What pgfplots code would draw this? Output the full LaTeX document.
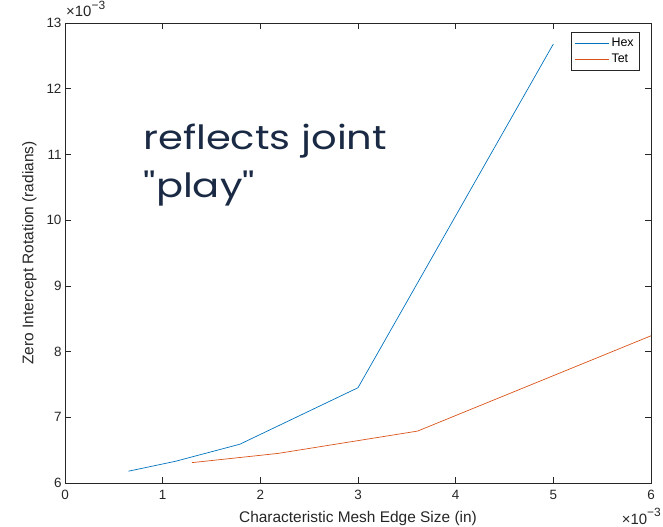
\documentclass[border=0pt]{standalone}
\usepackage{fontspec}
\setmainfont{Liberation Sans}
\newfontfamily\bigfont{Poppins}
\usepackage{pgfplots}
\pgfplotsset{compat=1.18}
\definecolor{mblue}{RGB}{0,114,189}
\definecolor{morange}{RGB}{217,83,25}
\definecolor{axgray}{RGB}{38,38,38}
\definecolor{navy}{RGB}{27,42,68}
\pgfplotsset{mylegline/.style={legend image code/.code={\draw (0bp,0bp) -- (34bp,0bp);}}}
\newcommand{\mult}{×10\raisebox{1.0ex}{\fontsize{12}{13}\selectfont −3}}
\begin{document}
\begin{tikzpicture}
\useasboundingbox (-65bp,-44bp) rectangle (598bp,483bp);
\begin{axis}[
  name=ax,
  at={(0,0)}, anchor=south west,
  scale only axis, width=586bp, height=460bp,
  xmin=0, xmax=6, ymin=6, ymax=13,
  xtick={0,1,2,3,4,5,6}, ytick={6,7,8,9,10,11,12,13},
  tick align=inside, major tick length=6bp,
  axis line style={axgray, line width=0.5pt},
  tick style={axgray, line width=0.5pt},
  ticklabel style={font=\fontsize{13.5}{15}\selectfont, text=axgray},
  xticklabel style={yshift=-4bp},
  /pgf/number format/assume math mode=true,
  xlabel={Characteristic Mesh Edge Size (in)},
  ylabel={Zero Intercept Rotation (radians)},
  label style={font=\fontsize{15.5}{18}\selectfont, text=axgray},
  xlabel style={yshift=-4bp},
  ylabel style={yshift=3bp},
  legend style={at={(0.981,0.980)}, anchor=north east, draw=axgray,
    font=\fontsize{12.5}{14}\selectfont, row sep=2pt, inner xsep=4pt, inner ysep=4pt,
    nodes={inner ysep=2pt}},
  legend cell align=left,
  mylegline,
]
\addplot[mblue, line width=0.7pt] coordinates {(0.65,6.18) (1.13,6.33) (1.79,6.59) (3.0,7.45) (5.0,12.68)};
\addlegendentry{Hex}
\addplot[morange, line width=0.7pt] coordinates {(1.30,6.31) (2.18,6.45) (3.61,6.79) (6.0,8.24)};
\addlegendentry{Tet}
\coordinate (t1) at (axis cs:0.80,11.07);
\coordinate (t2) at (axis cs:0.80,10.34);
\end{axis}
\node[anchor=base west, text=navy, font=\bigfont\fontsize{33.5}{40}\selectfont, inner sep=0pt] at (t1) {\scalebox{1.2}[1]{reflects joint}};
\node[anchor=base west, text=navy, font=\bigfont\fontsize{33.5}{40}\selectfont, inner sep=0pt] at (t2) {\scalebox{1.2}[1]{''play''}};
\node[anchor=base west, font=\fontsize{15}{16}\selectfont, text=axgray, inner sep=0pt] at (1bp,466bp) {\mult};
\node[anchor=base east, font=\fontsize{15}{16}\selectfont, text=axgray, inner sep=0pt] at (596bp,-41bp) {\mult};
\end{tikzpicture}
\end{document}
